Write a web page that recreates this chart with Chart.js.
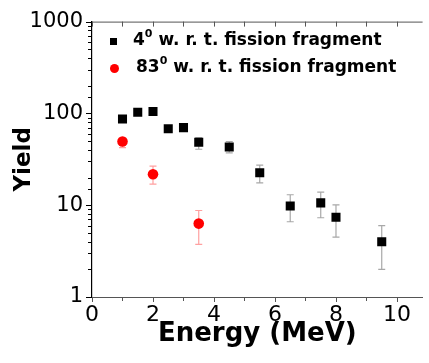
<!DOCTYPE html>
<html>
<head>
<meta charset="utf-8">
<script src="https://cdn.jsdelivr.net/npm/chart.js@4.4.0/dist/chart.umd.min.js"></script>
<style>
html,body{margin:0;padding:0;background:#fff;}
#wrap{position:relative;width:429px;height:363px;}
.leg{position:absolute;font-family:"DejaVu Sans";font-weight:bold;font-size:17px;line-height:17px;color:#000;white-space:nowrap;}
.leg sup{font-size:11px;line-height:0;vertical-align:8px;}
.mk{position:absolute;}
</style>
</head>
<body>
<div id="wrap">
  <canvas id="chart" width="429" height="363"></canvas>
  <div class="mk" style="left:110px;top:38px;width:7px;height:7px;background:#000;"></div>
  <div class="leg" style="left:133px;top:31px;">4<sup>0</sup> w. r. t. fission fragment</div>
  <div class="mk" style="left:110px;top:64px;width:9px;height:9px;border-radius:50%;background:#ff0000;"></div>
  <div class="leg" style="left:136px;top:58px;">83<sup>0</sup> w. r. t. fission fragment</div>
</div>
<script>
// 4 deg series (black squares)
const energyA = [1, 1.5, 2, 2.5, 3, 3.5, 4.5, 5.5, 6.5, 7.5, 8, 9.5];
const yieldA  = [87, 103, 105, 68, 70, 48.6, 43, 22.6, 9.8, 10.6, 7.4, 4.0];
const lowA    = [82, 98, 100, 64, 66, 40.7, 37.1, 17.5, 6.6, 7.3, 4.5, 2.0];
const highA   = [92, 108, 110, 72, 74, 54.5, 49.4, 27.3, 13.0, 13.9, 10.1, 6.0];

// 83 deg series (red circles)
const energyB = [1, 2, 3.5];
const yieldB  = [49.4, 21.7, 6.3];
const lowB    = [42.4, 17.0, 3.75];
const highB   = [53.8, 26.7, 8.75];

const yLabels = [1, 10, 100, 1000];

const errorBars = {
  id: 'errorBars',
  beforeDatasetsDraw(chart) {
    const {ctx, scales: {x, y}} = chart;
    [[energyA, lowA, highA, '#a8a8a8'], [energyB, lowB, highB, '#ffa0a0']].forEach(([xs, lo, hi, col]) => {
      ctx.save();
      ctx.strokeStyle = col;
      ctx.lineWidth = 1.2;
      xs.forEach((e, i) => {
        const px = x.getPixelForValue(e);
        const y1 = y.getPixelForValue(lo[i]);
        const y2 = y.getPixelForValue(hi[i]);
        ctx.beginPath();
        ctx.moveTo(px, y1); ctx.lineTo(px, y2);
        ctx.moveTo(px - 3.5, y1); ctx.lineTo(px + 3.5, y1);
        ctx.moveTo(px - 3.5, y2); ctx.lineTo(px + 3.5, y2);
        ctx.stroke();
      });
      ctx.restore();
    });
  }
};

const axisTicks = {
  id: 'axisTicks',
  afterDraw(chart) {
    const {ctx, chartArea: a, scales: {x, y}} = chart;
    ctx.save();
    ctx.lineWidth = 1;
    ctx.strokeStyle = '#555';
    ctx.beginPath();
    ctx.moveTo(a.left, a.top + 0.5); ctx.lineTo(a.right, a.top + 0.5);
    x.ticks.filter(t => Number.isInteger(t.value)).forEach(t => {
      const px = Math.round(x.getPixelForValue(t.value)) + 0.5;
      const len = t.value % 2 === 0 ? 5 : 4;
      ctx.moveTo(px, a.bottom); ctx.lineTo(px, a.bottom + len);
      ctx.moveTo(px, a.top); ctx.lineTo(px, a.top + 5);
    });
    ctx.stroke();
    ctx.strokeStyle = '#000';
    ctx.beginPath();
    y.ticks.forEach(t => {
      const py = Math.round(y.getPixelForValue(t.value)) + 0.5;
      const len = yLabels.includes(t.value) ? 6 : 4;
      ctx.moveTo(a.left - len, py); ctx.lineTo(a.left, py);
    });
    ctx.stroke();
    ctx.restore();
  }
};

new Chart(document.getElementById('chart'), {
  type: 'scatter',
  data: {
    datasets: [
      {
        label: '4⁰ w. r. t. fission fragment',
        data: energyA.map((e, i) => ({x: e, y: yieldA[i]})),
        pointStyle: 'rect', pointRadius: 6.4, borderWidth: 0,
        backgroundColor: '#000'
      },
      {
        label: '83⁰ w. r. t. fission fragment',
        data: energyB.map((e, i) => ({x: e, y: yieldB[i]})),
        pointStyle: 'circle', pointRadius: 5.3, borderWidth: 0,
        backgroundColor: '#ff0000'
      }
    ]
  },
  options: {
    responsive: false,
    animation: false,
    layout: {padding: {top: 20, right: 0, left: 0, bottom: 0}},
    plugins: {legend: {display: false}, tooltip: {enabled: false}},
    scales: {
      x: {
        type: 'linear', position: 'bottom', min: 0, max: 10.84,
        grid: {display: false, drawTicks: false},
        border: {display: true, color: '#555', width: 1},
        ticks: {
          stepSize: 1, includeBounds: false, autoSkip: false, maxRotation: 0, padding: 5, color: '#000',
          font: {family: 'DejaVu Sans', size: 22},
          callback: v => (Number.isInteger(v) && v % 2 === 0 ? String(v) : '')
        },
        title: {
          display: true, text: 'Energy (MeV)', color: '#000',
          font: {family: 'DejaVu Sans', size: 26, weight: 'bold'},
          padding: {top: 0, bottom: 13}
        },
        afterFit: s => { s.height = 66; }
      },
      y: {
        type: 'logarithmic', position: 'left', min: 1, max: 1000,
        grid: {display: false, drawTicks: false},
        border: {display: true, color: '#000', width: 1.2},
        ticks: {
          autoSkip: false, padding: 9, color: '#000',
          font: {family: 'DejaVu Sans', size: 21},
          callback: v => (yLabels.includes(v) ? String(v) : '')
        },
        title: {
          display: true, text: 'Yield', color: '#000',
          font: {family: 'DejaVu Sans', size: 23, weight: 'bold'},
          padding: {top: 10, bottom: 0}
        },
        afterFit: s => { s.width = 92; }
      }
    }
  },
  plugins: [errorBars, axisTicks]
});
</script>
</body>
</html>
